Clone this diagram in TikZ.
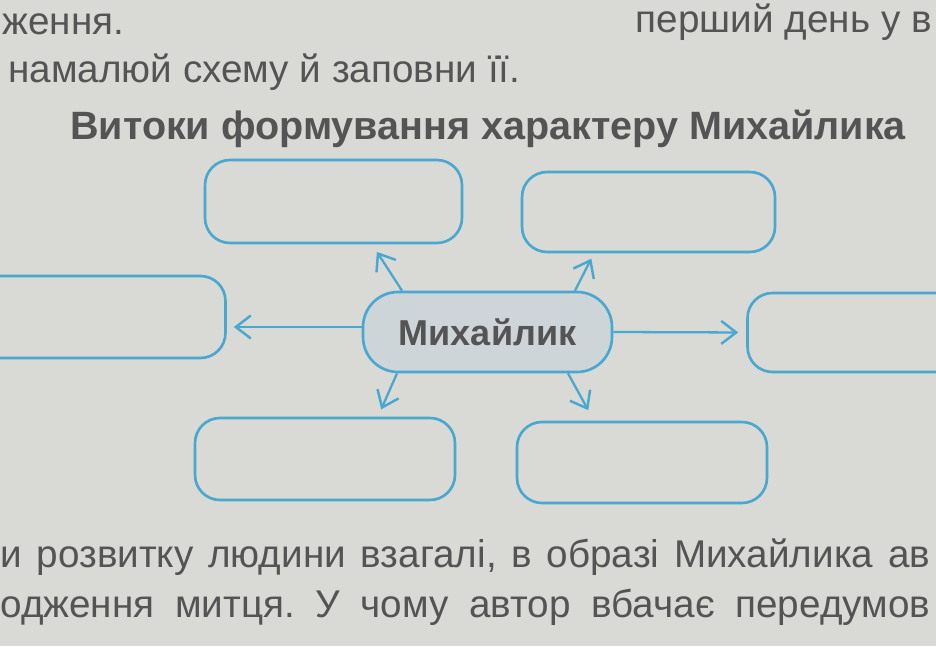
\documentclass[tikz,border=0pt]{standalone}
\usepackage{fontspec}
\setmainfont{Liberation Sans}
\usetikzlibrary{arrows.meta, positioning}
\definecolor{paper}{RGB}{217,217,213}
\definecolor{lineblue}{RGB}{72,168,208}
\definecolor{hubfill}{RGB}{205,213,217}
\definecolor{printgray}{RGB}{84,84,84}
\frenchspacing

\begin{document}
\begin{tikzpicture}[x=0.02cm, y=0.02cm,
  emptybox/.style={rectangle, draw=lineblue, line width=1.5pt, rounded corners=0.5cm, minimum width=5.1cm, minimum height=1.62cm},
  hubbox/.style={rectangle, draw=lineblue, fill=hubfill, line width=1.5pt, rounded corners=0.7cm, minimum width=4.98cm, minimum height=1.6cm, text=printgray, font=\fontsize{20.5}{24}\selectfont\bfseries},
  pointer/.style={-{Straight Barb[length=0.3cm,width=0.46cm,line width=1.4pt]}, draw=lineblue, line width=1.3pt},
  pagetext/.style={text=printgray, font=\fontsize{22}{26}\selectfont, inner sep=0pt, anchor=base west}]

\useasboundingbox (0,0) rectangle (936,646);
\fill[paper] (0,0) rectangle (936,646);

% Page text round the scheme
\node[pagetext] at (2,611) (prevend) {ження.};
\node[pagetext, anchor=base east] at (932,613) (prevtail) {перший день у в};
\node[pagetext] at (8,563) (task) {намалюй схему й заповни її.};
\node[pagetext, font=\fontsize{22.5}{26}\selectfont\bfseries] at (70,506) (title) {Витоки формування характеру Михайлика};
\node[pagetext] at (0,79) (nextone) {\makebox[18.6cm][s]{и розвитку людини взагалі, в образі Михайлика ав}};
\node[pagetext] at (0,29) (nexttwo) {\makebox[18.6cm][s]{одження митця. У чому автор вбачає передумов}};

% Hub
\node[hubbox] at (487.5,314) (mykh) {Михайлик};

% Empty boxes
\node[emptybox, minimum width=5.14cm, minimum height=1.66cm] at (333.5,444.5) (tl) {};
\node[emptybox, minimum width=5.06cm, minimum height=1.6cm] at (648.5,434) (tr) {};
\node[emptybox, minimum width=5.1cm, minimum height=1.64cm] at (98,329) (lft) {};
\node[emptybox, minimum width=5.1cm, minimum height=1.58cm] at (875,313.5) (rgt) {};
\node[emptybox, minimum width=5.2cm, minimum height=1.64cm] at (325,187) (bl) {};
\node[emptybox, minimum width=5.0cm, minimum height=1.62cm] at (642,183.5) (br) {};

% Arrows from the hub
\draw[pointer] ([yshift=0.1cm]mykh.west) -- ([yshift=0.1cm, xshift=0.14cm]mykh.west -| lft.east);
\draw[pointer, shorten >=0.16cm] (mykh.east) -- (rgt.west);
\draw[pointer, shorten >=0.18cm] ([xshift=-1.71cm]mykh.north) -- ([xshift=0.77cm]tl.south);
\draw[pointer, shorten >=0.12cm] ([xshift=1.75cm]mykh.north) -- ([xshift=-1.09cm]tr.south);
\draw[pointer, shorten >=0.16cm] ([xshift=-1.81cm]mykh.south) -- ([xshift=1.06cm]bl.north);
\draw[pointer, shorten >=0.24cm] ([xshift=1.61cm]mykh.south) -- ([xshift=-0.96cm]br.north);

\end{tikzpicture}
\end{document}
